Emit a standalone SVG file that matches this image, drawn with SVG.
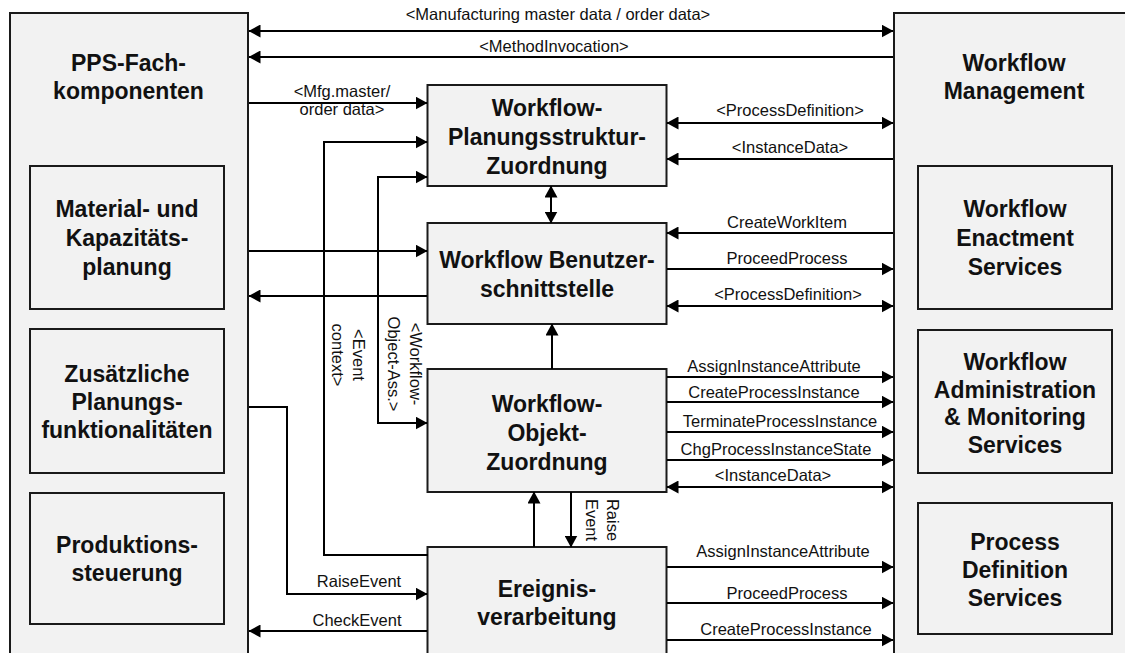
<svg xmlns="http://www.w3.org/2000/svg" width="1125" height="653" viewBox="0 0 1125 653">
<style>
.box{fill:#f2f2f2;stroke:#1a1a1a;stroke-width:2}
.t{font-family:"Liberation Sans",Arial,sans-serif;font-weight:bold;font-size:23px;fill:#111;text-anchor:middle}
.l{font-family:"Liberation Sans",Arial,sans-serif;font-size:16.5px;fill:#111;text-anchor:middle}
.c{fill:none;stroke:#000;stroke-width:2}
.e{marker-end:url(#ah)}
.b{marker-start:url(#ah);marker-end:url(#ah)}
</style>
<defs>
<marker id="ah" viewBox="0 0 12 13" refX="11.5" refY="6.5" markerWidth="12" markerHeight="13" markerUnits="userSpaceOnUse" orient="auto-start-reverse">
<path d="M0,0 L12,6.5 L0,13 z" fill="#000"/>
</marker>
</defs>
<rect width="1125" height="653" fill="#fff"/>

<g id="pps">
<rect class="box" x="10" y="13" width="238" height="660"/>
<text class="t" x="128.5" y="71">PPS-Fach-</text>
<text class="t" x="128.5" y="99">komponenten</text>
</g>
<g id="wfm">
<rect class="box" x="894" y="13" width="250" height="660"/>
<text class="t" x="1014" y="71">Workflow</text>
<text class="t" x="1014" y="99">Management</text>
</g>
<g id="material">
<rect class="box" x="30" y="166" width="194" height="143"/>
<text class="t" x="127" y="217">Material- und</text>
<text class="t" x="127" y="246">Kapazitäts-</text>
<text class="t" x="127" y="275">planung</text>
</g>
<g id="zusaetzlich">
<rect class="box" x="30" y="329" width="194" height="144"/>
<text class="t" x="127" y="382">Zusätzliche</text>
<text class="t" x="127" y="410">Planungs-</text>
<text class="t" x="127" y="438">funktionalitäten</text>
</g>
<g id="produktion">
<rect class="box" x="30" y="493" width="194" height="131"/>
<text class="t" x="127" y="553">Produktions-</text>
<text class="t" x="127" y="581">steuerung</text>
</g>
<g id="enactment">
<rect class="box" x="918" y="166" width="194" height="143"/>
<text class="t" x="1015" y="217">Workflow</text>
<text class="t" x="1015" y="246">Enactment</text>
<text class="t" x="1015" y="275">Services</text>
</g>
<g id="admin">
<rect class="box" x="918" y="330" width="194" height="143"/>
<text class="t" x="1015" y="370">Workflow</text>
<text class="t" x="1015" y="397.5">Administration</text>
<text class="t" x="1015" y="425">&amp; Monitoring</text>
<text class="t" x="1015" y="452.5">Services</text>
</g>
<g id="procdef">
<rect class="box" x="918" y="503" width="194" height="131"/>
<text class="t" x="1015" y="550">Process</text>
<text class="t" x="1015" y="578">Definition</text>
<text class="t" x="1015" y="606">Services</text>
</g>
<g id="planungsstruktur">
<rect class="box" x="427.5" y="85" width="239" height="101"/>
<text class="t" x="547" y="116">Workflow-</text>
<text class="t" x="547" y="145">Planungsstruktur-</text>
<text class="t" x="547" y="174">Zuordnung</text>
</g>
<g id="benutzer">
<rect class="box" x="427.5" y="223" width="239" height="101"/>
<text class="t" x="547" y="268">Workflow Benutzer-</text>
<text class="t" x="547" y="297">schnittstelle</text>
</g>
<g id="objekt">
<rect class="box" x="427.5" y="369" width="239" height="123"/>
<text class="t" x="547" y="411.5">Workflow-</text>
<text class="t" x="547" y="440.5">Objekt-</text>
<text class="t" x="547" y="469.5">Zuordnung</text>
</g>
<g id="ereignis">
<rect class="box" x="427.5" y="547" width="239" height="120"/>
<text class="t" x="547" y="597">Ereignis-</text>
<text class="t" x="547" y="625">verarbeitung</text>
</g>

<g id="connectors">
<path class="c b" d="M249,31 H893"/>
<path class="c e" d="M893,57 H249"/>
<path class="c e" d="M249,103 H427"/>
<path class="c e" d="M428,555 H324 V142 H427"/>
<path class="c b" d="M427,177 H378 V423 H427"/>
<path class="c e" d="M249,251 H427"/>
<path class="c e" d="M427,296 H249"/>
<path class="c e" d="M249,407 H287 V594 H427"/>
<path class="c e" d="M427,631 H249"/>
<path class="c b" d="M551,186 V223"/>
<path class="c e" d="M552,369 V324"/>
<path class="c e" d="M534,547 V492"/>
<path class="c e" d="M571,492 V547"/>
<path class="c b" d="M667,123 H893"/>
<path class="c e" d="M893,159 H667"/>
<path class="c e" d="M893,233 H667"/>
<path class="c e" d="M667,269 H893"/>
<path class="c b" d="M667,306 H893"/>
<path class="c e" d="M667,377 H893"/>
<path class="c e" d="M667,402 H893"/>
<path class="c e" d="M667,432 H893"/>
<path class="c e" d="M667,460 H893"/>
<path class="c b" d="M667,487 H893"/>
<path class="c e" d="M667,567 H893"/>
<path class="c e" d="M667,603 H893"/>
<path class="c e" d="M667,640 H893"/>

<text class="l" x="558" y="20">&lt;Manufacturing master data / order data&gt;</text>
<text class="l" x="554" y="52">&lt;MethodInvocation&gt;</text>
<text class="l" x="342" y="97">&lt;Mfg.master/</text>
<text class="l" x="342" y="115">order data&gt;</text>
<text class="l" x="790" y="116">&lt;ProcessDefinition&gt;</text>
<text class="l" x="790" y="153">&lt;InstanceData&gt;</text>
<text class="l" x="787" y="228">CreateWorkItem</text>
<text class="l" x="787" y="264">ProceedProcess</text>
<text class="l" x="788" y="300">&lt;ProcessDefinition&gt;</text>
<text class="l" x="774" y="372">AssignInstanceAttribute</text>
<text class="l" x="774" y="398">CreateProcessInstance</text>
<text class="l" x="780" y="427">TerminateProcessInstance</text>
<text class="l" x="776" y="455">ChgProcessInstanceState</text>
<text class="l" x="773" y="481">&lt;InstanceData&gt;</text>
<text class="l" x="783" y="557">AssignInstanceAttribute</text>
<text class="l" x="787" y="599">ProceedProcess</text>
<text class="l" x="786" y="635">CreateProcessInstance</text>
<text class="l" x="359" y="587">RaiseEvent</text>
<text class="l" x="357" y="626">CheckEvent</text>
<g transform="translate(353,355) rotate(90)">
<text class="l" x="0" y="0">&lt;Event</text>
<text class="l" x="0" y="21">context&gt;</text>
</g>
<g transform="translate(410,364) rotate(90)">
<text class="l" x="0" y="0">&lt;Workflow-</text>
<text class="l" x="0" y="22">Object-Ass.&gt;</text>
</g>
<g transform="translate(607,520) rotate(90)">
<text class="l" x="0" y="0">Raise</text>
<text class="l" x="0" y="21">Event</text>
</g>
</g>
</svg>
